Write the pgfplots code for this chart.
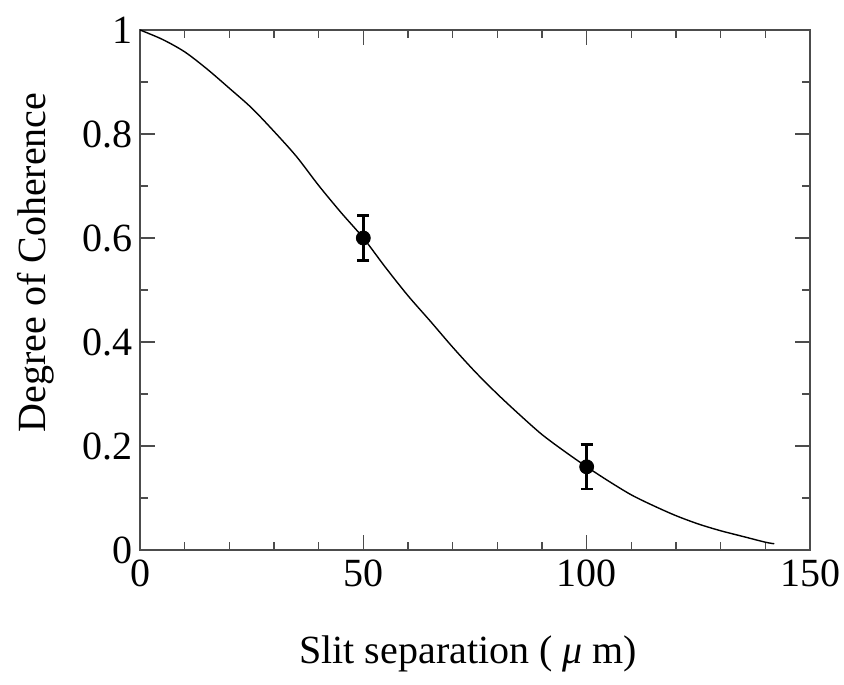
\documentclass[border=0pt]{standalone}
\usepackage{pgfplots}
\pgfplotsset{compat=1.18}
\usepackage{fontspec}
\setmainfont{Liberation Serif}
\begin{document}
\fontsize{20}{24}\selectfont
\begin{tikzpicture}
\begin{axis}[
  scale only axis,
  width=335pt, height=260pt,
  xmin=0, xmax=150, ymin=0, ymax=1,
  xtick={0,50,100,150},
  ytick={0,0.2,0.4,0.6,0.8,1},
  yticklabels={0,0.2,0.4,0.6,0.8,1},
  minor x tick num=4,
  minor y tick num=1,
  tick align=inside,
  major tick length=7.5pt,
  minor tick length=4pt,
  every tick/.style={black!70, line width=0.6pt},
  axis line style={black!70, line width=1pt},
  /pgf/number format/assume math mode=true,
  ticklabel style={font=\fontsize{20}{24}\selectfont},
  xticklabel style={yshift=2pt},
  yticklabel style={xshift=3pt},
  xlabel={Slit separation ( {\itshape μ} m)},
  ylabel={Degree of Coherence},
  label style={font=\fontsize{20}{24}\selectfont},
  xlabel style={at={(axis description cs:0.49,-0.2)}, anchor=center},
  ylabel style={at={(axis description cs:-0.155,0.553)}, anchor=center},
]
\addplot[black, line width=0.7pt, smooth] coordinates {
(0,1.0) (5,0.982) (10,0.958) (15,0.925) (20,0.888) (25,0.85) (30,0.805)
(35,0.757) (40,0.701) (45,0.649) (50,0.600) (55,0.543) (60,0.489)
(65,0.44) (70,0.39) (75,0.343) (80,0.30) (85,0.26) (90,0.222) (95,0.19)
(100,0.16) (105,0.132) (110,0.106) (115,0.085) (120,0.066) (125,0.05)
(130,0.037) (135,0.026) (140,0.015) (142,0.012)
};
\addplot[black, only marks, mark=*, mark size=3.5pt,
  error bars/.cd, y dir=both, y explicit,
  error bar style={line width=1.2pt},
  error mark options={rotate=90, mark size=3pt, line width=1.2pt}]
  coordinates {
  (50,0.600) +- (0,0.043)
  (100,0.160) +- (0,0.043)
};
\end{axis}
\pgfresetboundingbox
\path (current axis.south west) ++(-70pt,-67pt) coordinate (bbA);
\path (current axis.north east) ++(17pt,15pt) coordinate (bbB);
\useasboundingbox (bbA) rectangle (bbB);
\end{tikzpicture}
\end{document}
